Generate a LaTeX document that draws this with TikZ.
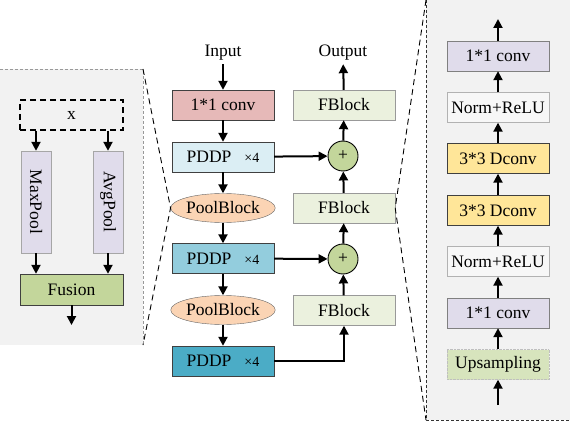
\documentclass[tikz,border=0pt]{standalone}
\usepackage{fontspec}
\usepackage{graphicx}
\setmainfont{Liberation Serif}
\usetikzlibrary{arrows.meta}
\usetikzlibrary{shapes.geometric}

\definecolor{panelgray}{HTML}{F2F2F2}
\definecolor{convpink}{HTML}{E6B9B8}
\definecolor{pddpa}{HTML}{DBEEF4}
\definecolor{pddpb}{HTML}{93CDDD}
\definecolor{pddpc}{HTML}{4BACC6}
\definecolor{poolpeach}{HTML}{FBD4B4}
\definecolor{fblockgreen}{HTML}{EBF1DE}
\definecolor{plusgreen}{HTML}{C3D69B}
\definecolor{lavender}{HTML}{E0DCEB}
\definecolor{dconvyellow}{HTML}{FFE699}
\definecolor{upgreen}{HTML}{D7E4BD}
\definecolor{normgray}{HTML}{F7F7F7}

\newcommand{\pddp}{PDDP\hspace{13pt}{\fontsize{14}{15}\selectfont ×4}}

\begin{document}
\begin{tikzpicture}[x=1pt,y=-1pt,font=\fontsize{17.5}{19}\selectfont,
  box/.style={rectangle,draw=black!75,minimum width=102pt,minimum height=30pt,inner sep=0pt},
  vbox/.style={rectangle,draw=black!35,fill=lavender,minimum width=30pt,minimum height=102pt,inner sep=0pt},
  fblock/.style={box,draw=black!40,fill=fblockgreen},
  pool/.style={ellipse,draw=black!60,fill=poolpeach,minimum width=102pt,minimum height=29pt,inner sep=0pt},
  plus/.style={circle,draw=black,line width=0.9pt,fill=plusgreen,minimum size=30pt,inner sep=0pt},
  arr/.style={-{Triangle[length=9pt,width=9pt]},line width=2pt},
  zoomline/.style={dash pattern=on 6pt off 4pt,line width=0.9pt}]
\useasboundingbox (0,0) rectangle (570,422);

% side panels
\fill[panelgray] (0,69) rectangle (143,345);
\draw[black!40,densely dashed,thin] (0,69) -- (143,69) -- (143,345);
\fill[panelgray] (426,0) rectangle (570,420);
\draw[black!80,densely dashed,thin] (426,0) -- (426,420) -- (570,420);

% main column
\node (in) at (223,53) {Input};
\node (out) at (343,53) {Output};
\node[box,fill=convpink] (conv) at (223,105) {1*1 conv};
\node[box,fill=pddpa] (p1) at (223,157) {\pddp};
\node[pool] (pb1) at (223,208) {PoolBlock};
\node[box,fill=pddpb] (p2) at (223,258.5) {\pddp};
\node[pool] (pb2) at (223,310) {PoolBlock};
\node[box,fill=pddpc] (p3) at (223,361) {\pddp};
\node[fblock] (fb1) at (344,105) {FBlock};
\node[plus] (s1) at (343,156) {+};
\node[fblock] (fb2) at (344,208) {FBlock};
\node[plus] (s2) at (343,259) {+};
\node[fblock] (fb3) at (344,310.5) {FBlock};

% zoom lines
\coordinate (lt) at (143,69);
\coordinate (lb) at (143,345);
\coordinate (rt) at (426,0);
\coordinate (rb) at (426,420);
\draw[zoomline] (lt) -- (pb1.west) -- (lb);
\draw[zoomline] (rt) -- (fb2.east) -- (rb);

\draw[arr] (in) -- (conv);
\draw[arr] (conv) -- (p1);
\draw[arr] (p1) -- (pb1);
\draw[arr] (pb1) -- (p2);
\draw[arr] (p2) -- (pb2);
\draw[arr] (pb2) -- (p3);
\draw[arr] (p1) -- (s1);
\draw[arr] (p2) -- (s2);
\draw[arr] (p3.east) -| (fb3.south);
\draw[arr] (fb3) -- (s2);
\draw[arr] (s2) -- (fb2);
\draw[arr] (fb2) -- (s1);
\draw[arr] (s1) -- (fb1);
\draw[arr] (fb1) -- (out);

% pool block detail
\node[box,draw=black,dash pattern=on 6pt off 4pt,line width=1.3pt,minimum width=103pt] (xin) at (71.5,115) {x};
\node[vbox] (maxp) at (36,202) {\rotatebox{-90}{MaxPool}};
\node[vbox] (avgp) at (108,202) {\rotatebox{-90}{AvgPool}};
\node[box,fill=plusgreen,minimum width=103pt,minimum height=31pt] (fuse) at (71.5,289.5) {Fusion};
\coordinate (fout) at (71.5,325);
\draw[arr] (xin.south -| maxp) -- (maxp);
\draw[arr] (xin.south -| avgp) -- (avgp);
\draw[arr] (maxp) -- (maxp |- fuse.north);
\draw[arr] (avgp) -- (avgp |- fuse.north);
\draw[arr] (fuse) -- (fout);

% fblock detail
\node[box,draw=black!50,fill=lavender] (r1) at (498,56) {1*1 conv};
\node[box,draw=black!30,fill=normgray] (r2) at (498,107.5) {Norm+ReLU};
\node[box,fill=dconvyellow] (r3) at (498,158.5) {3*3 Dconv};
\node[box,fill=dconvyellow] (r4) at (498,210.5) {3*3 Dconv};
\node[box,draw=black!30,fill=normgray] (r5) at (498,261.5) {Norm+ReLU};
\node[box,draw=black!50,fill=lavender] (r6) at (498,313) {1*1 conv};
\node[box,draw=black!25,densely dotted,fill=upgreen] (r7) at (498,364.5) {Upsampling};
\coordinate (rin) at (498,405);
\coordinate (rout) at (498,19);
\foreach \a/\b in {rin/r7,r7/r6,r6/r5,r5/r4,r4/r3,r3/r2,r2/r1,r1/rout}
  \draw[arr] (\a) -- (\b);

\end{tikzpicture}
\end{document}
